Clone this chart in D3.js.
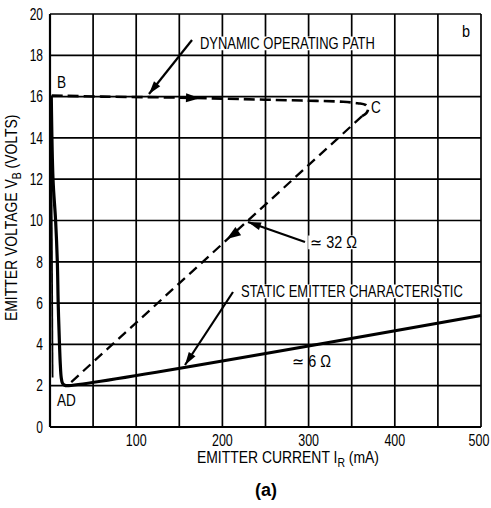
<!DOCTYPE html>
<html>
<head>
<meta charset="utf-8">
<script src="https://cdn.jsdelivr.net/npm/d3@7"></script>
<style>
  body { margin: 0; background: #fff; }
  svg { display: block; font-family: "Liberation Sans Narrow", "Arial Narrow", "Liberation Sans", sans-serif; }
</style>
</head>
<body>
<svg id="chart" width="491" height="508"></svg>
<script>
// Emitter voltage vs emitter current, static characteristic and dynamic path
const xTicks = [100, 200, 300, 400, 500];
const yTicks = [0, 2, 4, 6, 8, 10, 12, 14, 16, 18, 20];
const xGrid = [0, 50, 100, 150, 200, 250, 300, 350, 400, 450, 500];

// static emitter characteristic (mA, V)
const staticI = [1.5, 3.5, 6.5, 8.5, 9.5, 11.0, 12.0, 13.0, 14.5, 17.0, 20.0, 500];
const staticV = [16.0, 12.0, 10.0, 8.0, 6.0, 4.0, 3.0, 2.4, 2.12, 2.02, 2.0, 5.4];

// A -> B jump (thin solid)
const jumpI = [3.0, 1.2];
const jumpV = [2.4, 16.05];

// B -> C (dashed) with the curl at C, then C -> D
const pathBCI = [2, 60, 150, 250, 300, 340, 357, 366, 369, 367, 362];
const pathBCV = [16.05, 16.0, 15.95, 15.85, 15.8, 15.75, 15.68, 15.6, 15.4, 15.2, 15.05];
const pathCDI = [362, 20];
const pathCDV = [15.05, 2.0];

const svg = d3.select("#chart");
const x = d3.scaleLinear().domain([0, 500]).range([50, 481]);
const y = d3.scaleLinear().domain([0, 20]).range([427, 14]);

// grid
const grid = svg.append("g").attr("stroke", "#000").attr("stroke-width", 1.7);
grid.selectAll("line.v").data(xGrid).join("line")
  .attr("x1", d => x(d)).attr("x2", d => x(d))
  .attr("y1", y(0)).attr("y2", y(20));
grid.selectAll("line.h").data(yTicks).join("line")
  .attr("x1", x(0)).attr("x2", x(500))
  .attr("y1", d => y(d)).attr("y2", d => y(d));
svg.append("line").attr("x1", x(0)).attr("x2", x(0)).attr("y1", y(0)).attr("y2", y(20))
  .attr("stroke", "#000").attr("stroke-width", 2.2);
svg.append("line").attr("x1", x(0)).attr("x2", x(500)).attr("y1", y(0)).attr("y2", y(0))
  .attr("stroke", "#000").attr("stroke-width", 2.2);

// tick labels (condensed like the original lettering)
svg.append("g").selectAll("text").data(xTicks).join("text")
  .attr("transform", d => `translate(${Math.min(x(d), 479)},446) scale(0.78,1)`)
  .attr("text-anchor", "middle").attr("font-size", 16)
  .text(d => d);
svg.append("g").selectAll("text").data(yTicks).join("text")
  .attr("transform", d => `translate(43,${y(d)}) scale(0.75,1)`).attr("dy", "0.36em")
  .attr("text-anchor", "end").attr("font-size", 16)
  .text(d => d);

// axis titles
const xt = svg.append("text").attr("transform", "translate(197,463) scale(0.87,1)").attr("font-size", 16);
xt.append("tspan").text("EMITTER CURRENT I");
xt.append("tspan").attr("font-size", 12).attr("dy", 4).text("R");
xt.append("tspan").attr("dy", -4).text(" (mA)");

const yt = svg.append("text").attr("transform", "translate(17,321) rotate(-90) scale(0.87,1)").attr("font-size", 16);
yt.append("tspan").text("EMITTER VOLTAGE V");
yt.append("tspan").attr("font-size", 12).attr("dy", 4).text("B");
yt.append("tspan").attr("dy", -4).text(" (VOLTS)");

svg.append("text").attr("x", 266).attr("y", 496).attr("text-anchor", "middle")
  .attr("font-size", 18).attr("font-weight", "bold")
  .attr("font-family", "Liberation Sans, Arial, sans-serif").text("(a)");

// curves
const zip = (a, b) => a.map((v, i) => [v, b[i]]);
const straight = d3.line().x(d => x(d[0])).y(d => y(d[1]));
const smooth = d3.line().x(d => x(d[0])).y(d => y(d[1])).curve(d3.curveCatmullRom.alpha(0.5));

svg.append("path").datum(zip(staticI, staticV))
  .attr("d", smooth)
  .attr("fill", "none").attr("stroke", "#000").attr("stroke-width", 3.2)
  .attr("stroke-linejoin", "round");

svg.append("path").datum(zip(jumpI, jumpV))
  .attr("d", straight)
  .attr("fill", "none").attr("stroke", "#000").attr("stroke-width", 1.8);

svg.append("path").datum(zip(pathBCI, pathBCV))
  .attr("d", smooth)
  .attr("fill", "none").attr("stroke", "#000").attr("stroke-width", 2.6)
  .attr("stroke-dasharray", "11,5");

svg.append("path").datum(zip(pathCDI, pathCDV))
  .attr("d", straight)
  .attr("fill", "none").attr("stroke", "#000").attr("stroke-width", 2.3)
  .attr("stroke-dasharray", "10,6");

// arrowhead helper: tip at (tx,ty), pointing from (fx,fy)
function head(fx, fy, tx, ty, len, wid) {
  const a = Math.atan2(ty - fy, tx - fx);
  const bx = tx - len * Math.cos(a), by = ty - len * Math.sin(a);
  const px = Math.sin(a) * wid / 2, py = -Math.cos(a) * wid / 2;
  svg.append("path")
    .attr("d", `M${tx},${ty}L${bx + px},${by + py}L${bx - px},${by - py}Z`)
    .attr("fill", "#000");
}
function arrow(fx, fy, tx, ty) {
  svg.append("line").attr("x1", fx).attr("y1", fy).attr("x2", tx).attr("y2", ty)
    .attr("stroke", "#000").attr("stroke-width", 2.2);
  head(fx, fy, tx, ty, 13, 8);
}

// direction arrows on the dynamic path
head(x(150), y(15.95), x(174), y(15.92), 14, 9);
head(x(240), y(10.1), x(205), y(9.1), 14, 10);

// annotations
arrow(192, 40, 149, 94);
arrow(305, 242, 248, 222);
arrow(233, 292, 185, 365);

// labels drawn condensed with a horizontal scale, optional white backing
function label(t, tx, ty, size, sx, bg) {
  const g = svg.append("g").attr("transform", `translate(${tx},${ty}) scale(${sx},1)`);
  const s = g.append("text").attr("font-size", size).text(t);
  if (bg) {
    const w = s.node().getComputedTextLength();
    g.insert("rect", "text")
      .attr("x", -2).attr("y", -size * 0.78)
      .attr("width", w + 4).attr("height", size * 0.86).attr("fill", "#fff");
  }
  return s;
}
label("DYNAMIC OPERATING PATH", 200, 49, 16, 0.81, true);
label("STATIC EMITTER CHARACTERISTIC", 241, 297, 16, 0.81, true);
label("\u2243 32 \u03A9", 310, 248, 16, 0.9, true);
label("\u2243 6 \u03A9", 292, 367, 16, 0.9, false);
label("B", 57, 88, 16, 0.85);
label("C", 371, 113, 16, 0.85);
label("AD", 57, 406, 16, 0.85);
label("b", 462, 37, 16, 0.9);
</script>
</body>
</html>
